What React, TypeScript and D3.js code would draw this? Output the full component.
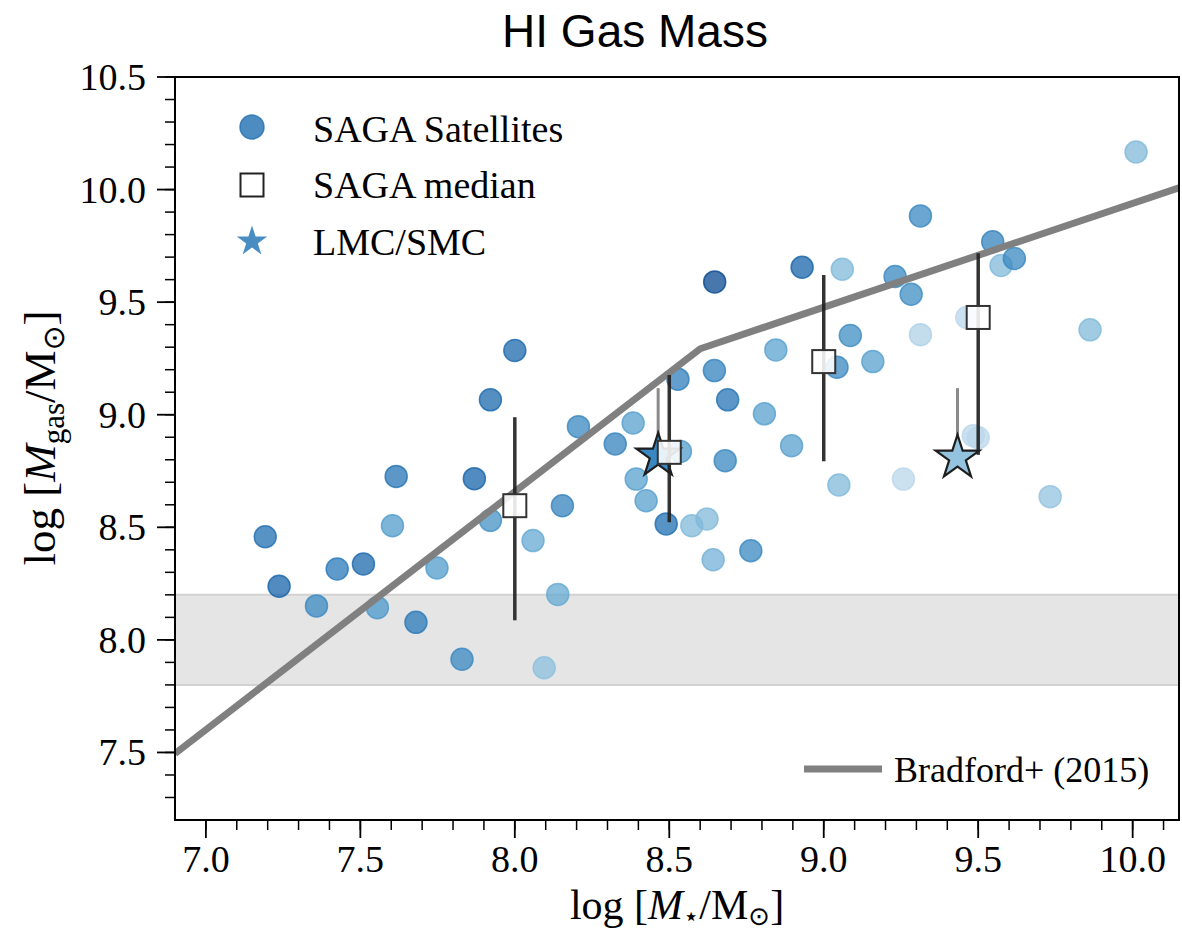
import React from 'react';
import * as d3 from 'd3';

const W = 1182;
const H = 935;

// SAGA satellites: log M*, log Mgas, colour value (Blues colormap)
const satX = [8.0, 7.921, 8.206, 7.616, 7.869, 8.154, 7.921, 7.604, 8.059, 7.192, 7.237, 7.425, 7.51, 7.748, 8.139, 7.358, 7.555, 7.68, 7.829, 8.095,
  9.313, 9.547, 9.574, 9.617, 8.93, 9.06, 8.647, 9.231, 9.283, 9.463, 9.313, 8.845, 9.086, 9.159, 9.043, 8.646, 8.528, 8.689, 8.808, 8.383,
  8.325, 8.896, 9.484, 9.5, 8.536, 8.681, 8.393, 8.425, 8.49, 8.573, 8.622, 9.049, 9.258, 8.764, 8.642, 9.862, 10.011, 9.733];
const satY = [9.285, 9.066, 8.947, 8.726, 8.716, 8.596, 8.531, 8.507, 8.441, 8.458, 8.238, 8.315, 8.337, 8.319, 8.202, 8.151, 8.143, 8.078, 7.914, 7.876,
  9.883, 9.768, 9.663, 9.694, 9.655, 9.646, 9.59, 9.614, 9.535, 9.432, 9.355, 9.288, 9.352, 9.236, 9.211, 9.196, 9.158, 9.066, 9.004, 8.963,
  8.87, 8.862, 8.907, 8.898, 8.837, 8.796, 8.714, 8.618, 8.515, 8.507, 8.537, 8.688, 8.714, 8.396, 8.356, 9.377, 10.167, 8.636];
const satShade = [0.78, 0.78, 0.66, 0.74, 0.8, 0.68, 0.62, 0.58, 0.52, 0.76, 0.8, 0.72, 0.78, 0.58, 0.52, 0.66, 0.6, 0.72, 0.66, 0.42,
  0.66, 0.68, 0.45, 0.66, 0.8, 0.45, 0.9, 0.66, 0.64, 0.28, 0.32, 0.55, 0.64, 0.56, 0.66, 0.68, 0.7, 0.74, 0.56, 0.56,
  0.68, 0.56, 0.28, 0.28, 0.58, 0.66, 0.56, 0.56, 0.76, 0.45, 0.45, 0.45, 0.28, 0.66, 0.48, 0.45, 0.45, 0.4];

// SAGA median with 16-84 percentile range
const medX = [8.0, 8.5, 9.0, 9.5];
const medY = [8.596, 8.833, 9.236, 9.432];
const medLo = [8.087, 8.522, 8.793, 8.822];
const medHi = [8.989, 9.177, 9.621, 9.717];

// LMC / SMC
const lmcX = [8.464, 9.433];
const lmcY = [8.818, 8.809];
const lmcHi = [9.118, 9.118];
const lmcShade = [0.66, 0.4];

// Bradford+ (2015) relation
const bradX = [6.9, 8.6, 10.15];
const bradY = [7.495, 9.293, 10.008];

// HI detection-limit band
const bandLo = 7.8;
const bandHi = 8.2;

const xTicks = [7.0, 7.5, 8.0, 8.5, 9.0, 9.5, 10.0];
const xTickLabels = ['7.0', '7.5', '8.0', '8.5', '9.0', '9.5', '10.0'];
const yTicks = [7.5, 8.0, 8.5, 9.0, 9.5, 10.0, 10.5];
const yTickLabels = ['7.5', '8.0', '8.5', '9.0', '9.5', '10.0', '10.5'];

const L = 175, R = 1179, T = 77, B = 820;
const serif = '"Liberation Serif", "DejaVu Serif", serif';
const sans = '"Liberation Sans", Arial, sans-serif';
const KA = 0.8908130915292852;

export default function App() {
  const x = d3.scaleLinear().domain([6.9, 10.15]).range([L, R]);
  const y = d3.scaleLinear().domain([7.2, 10.5]).range([B, T]);
  const color = (s: number) => d3.interpolateBlues(s);

  const xMinor = d3.range(69, 102).map(v => v / 10).filter(v => x(v) > L + 1 && x(v) < R - 1);
  const yMinor = d3.range(72, 106).map(v => v / 10).filter(v => y(v) < B - 1);

  const line = d3.line<number>().x((_, i) => x(bradX[i])).y(d => y(d));
  const starPath = (r: number) => d3.symbol(d3.symbolStar, (r * r) / KA)() || '';

  const sq = 23;

  return (
    <svg width={W} height={H} style={{ position: 'absolute', left: 0, top: 0, background: '#fff' }}>
      <defs>
        <clipPath id="plotclip">
          <rect x={L} y={T} width={R - L} height={B - T} />
        </clipPath>
      </defs>
      <text x={635} y={47} fontFamily={sans} fontSize={46} textAnchor="middle" fill="#000">HI Gas Mass</text>

      <g clipPath="url(#plotclip)">
        <rect x={L} y={y(bandHi)} width={R - L} height={y(bandLo) - y(bandHi)} fill="#e5e5e5" />
        <line x1={L} x2={R} y1={y(bandHi)} y2={y(bandHi)} stroke="#d2d2d2" strokeWidth={2} />
        <line x1={L} x2={R} y1={y(bandLo)} y2={y(bandLo)} stroke="#d2d2d2" strokeWidth={2} />

        {satX.map((v, i) => (
          <circle key={i} cx={x(v)} cy={y(satY[i])} r={11} fill={color(satShade[i])} fillOpacity={0.75}
            stroke={color(satShade[i])} strokeOpacity={0.8} strokeWidth={1.5} />
        ))}

        <path d={line(bradY) || ''} fill="none" stroke="#808080" strokeWidth={7} />

        {lmcX.map((v, i) => (
          <line key={'le' + i} x1={x(v)} x2={x(v)} y1={y(lmcY[i])} y2={y(lmcHi[i])} stroke="#8a8a8a" strokeWidth={3} />
        ))}
        {lmcX.map((v, i) => (
          <path key={'ls' + i} d={starPath(23)} transform={`translate(${x(v)},${y(lmcY[i])})`}
            fill={color(lmcShade[i])} stroke="#1e1e1e" strokeWidth={2.2} strokeLinejoin="miter" />
        ))}

        {medX.map((v, i) => (
          <line key={'me' + i} x1={x(v)} x2={x(v)} y1={y(medLo[i])} y2={y(medHi[i])} stroke="#222" strokeOpacity={0.92} strokeWidth={3.5} />
        ))}
        {medX.map((v, i) => (
          <rect key={'ms' + i} x={x(v) - sq / 2} y={y(medY[i]) - sq / 2} width={sq} height={sq}
            fill="#fff" fillOpacity={0.88} stroke="#333" strokeWidth={2} />
        ))}
      </g>

      {/* frame */}
      <rect x={L} y={T} width={R - L} height={B - T} fill="none" stroke="#000" strokeWidth={2} />

      {/* x axis ticks */}
      {xMinor.map((v, i) => (
        <line key={'xm' + i} x1={x(v)} x2={x(v)} y1={B} y2={B + 10} stroke="#000" strokeWidth={1.5} />
      ))}
      {xTicks.map((v, i) => (
        <g key={'xt' + i}>
          <line x1={x(v)} x2={x(v)} y1={B} y2={B + 18} stroke="#000" strokeWidth={1.8} />
          <text x={x(v)} y={872} fontFamily={serif} fontSize={38} textAnchor="middle" fill="#000">{xTickLabels[i]}</text>
        </g>
      ))}

      {/* y axis ticks */}
      {yMinor.map((v, i) => (
        <line key={'ym' + i} x1={L - 10} x2={L} y1={y(v)} y2={y(v)} stroke="#000" strokeWidth={1.5} />
      ))}
      {yTicks.map((v, i) => (
        <g key={'yt' + i}>
          <line x1={L - 18} x2={L} y1={y(v)} y2={y(v)} stroke="#000" strokeWidth={1.8} />
          <text x={146} y={y(v) + 13} fontFamily={serif} fontSize={38} textAnchor="end" fill="#000">{yTickLabels[i]}</text>
        </g>
      ))}

      {/* axis labels */}
      <text x={677} y={919} fontFamily={serif} fontSize={42} textAnchor="middle" fill="#000">
        <tspan>log [</tspan>
        <tspan fontStyle="italic">M</tspan>
        <tspan dy={6} fontSize={26} fontFamily='"DejaVu Sans", sans-serif'>⋆</tspan>
        <tspan dy={-6}>/M</tspan>
        <tspan dy={6} fontSize={26} fontFamily='"DejaVu Sans", sans-serif'>⊙</tspan>
        <tspan dy={-6}>]</tspan>
      </text>
      <text transform="translate(55,438) rotate(-90)" fontFamily={serif} fontSize={45} textAnchor="middle" fill="#000">
        <tspan>log [</tspan>
        <tspan fontStyle="italic">M</tspan>
        <tspan dy={9} fontSize={31}>gas</tspan>
        <tspan dy={-9}>/M</tspan>
        <tspan dy={9} fontSize={30} fontFamily='"DejaVu Sans", sans-serif'>⊙</tspan>
        <tspan dy={-9}>]</tspan>
      </text>

      {/* legend top-left */}
      <circle cx={252} cy={127} r={12} fill={color(0.76)} fillOpacity={0.8} stroke={color(0.76)} strokeOpacity={0.8} strokeWidth={1.5} />
      <rect x={252 - 11.5} y={185 - 11.5} width={23} height={23} fill="#fff" stroke="#222" strokeWidth={2} />
      <path d={starPath(16)} transform="translate(252,241.5)" fill={color(0.72)} fillOpacity={0.85} />
      <text x={313} y={142} fontFamily={serif} fontSize={38} fill="#000">SAGA Satellites</text>
      <text x={313} y={198} fontFamily={serif} fontSize={38} fill="#000">SAGA median</text>
      <text x={313} y={255} fontFamily={serif} fontSize={38} fill="#000">LMC/SMC</text>

      {/* legend bottom-right */}
      <line x1={804} x2={882} y1={769} y2={769} stroke="#808080" strokeWidth={7} />
      <text x={894} y={782} fontFamily={serif} fontSize={36} fill="#000">Bradford+ (2015)</text>
    </svg>
  );
}
